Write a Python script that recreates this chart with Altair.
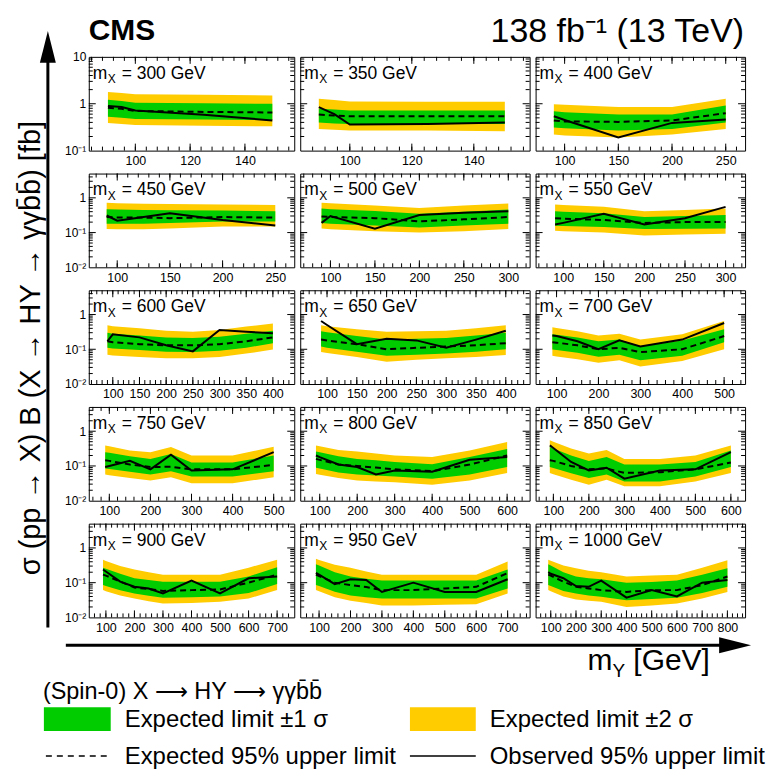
import altair as alt
import pandas as pd
import numpy as np

FONT = "Liberation Sans"
GREEN = "#00cc00"
YELLOW = "#ffcc00"

MX = [300, 350, 400, 450, 500, 550, 600, 650, 700, 750, 800, 850, 900, 950, 1000]

P300 = dict(my=[90, 95, 100, 125, 150],
            obs=[0.90, 0.85, 0.72, 0.58, 0.44],
            exp=[0.82, 0.78, 0.70, 0.67, 0.65],
            lo1=[0.53, 0.50, 0.47, 0.46, 0.45],
            hi1=[1.22, 1.15, 1.05, 1.02, 1.00],
            lo2=[0.39, 0.37, 0.35, 0.34, 0.33],
            hi2=[1.78, 1.70, 1.60, 1.55, 1.50])
P350 = dict(my=[90, 95, 100, 125, 150],
            obs=[0.85, 0.60, 0.36, 0.37, 0.40],
            exp=[0.59, 0.56, 0.54, 0.54, 0.54],
            lo1=[0.40, 0.38, 0.37, 0.37, 0.37],
            hi1=[0.78, 0.75, 0.72, 0.72, 0.72],
            lo2=[0.29, 0.28, 0.27, 0.27, 0.26],
            hi2=[1.28, 1.20, 1.12, 1.10, 1.10])
P400 = dict(my=[90, 100, 150, 200, 250],
            obs=[0.54, 0.45, 0.19, 0.39, 0.46],
            exp=[0.44, 0.42, 0.41, 0.44, 0.63],
            lo1=[0.31, 0.30, 0.27, 0.29, 0.40],
            hi1=[0.69, 0.66, 0.59, 0.59, 0.92],
            lo2=[0.22, 0.21, 0.19, 0.22, 0.29],
            hi2=[0.98, 0.95, 0.85, 0.85, 1.28])
P450 = dict(my=[90, 100, 125, 150, 200, 250],
            obs=[0.31, 0.22, 0.28, 0.36, 0.23, 0.16],
            exp=[0.28, 0.27, 0.27, 0.26, 0.28, 0.27],
            lo1=[0.18, 0.18, 0.18, 0.19, 0.21, 0.21],
            hi1=[0.47, 0.46, 0.45, 0.44, 0.43, 0.41],
            lo2=[0.126, 0.125, 0.125, 0.13, 0.15, 0.15],
            hi2=[0.72, 0.70, 0.68, 0.66, 0.64, 0.62])
P500 = dict(my=[90, 100, 150, 200, 250, 300],
            obs=[0.19, 0.30, 0.13, 0.32, 0.37, 0.41],
            exp=[0.29, 0.28, 0.26, 0.21, 0.24, 0.28],
            lo1=[0.19, 0.18, 0.16, 0.14, 0.16, 0.18],
            hi1=[0.49, 0.47, 0.42, 0.35, 0.40, 0.46],
            lo2=[0.13, 0.125, 0.11, 0.10, 0.11, 0.126],
            hi2=[0.72, 0.70, 0.60, 0.51, 0.60, 0.69])
P550 = dict(my=[90, 100, 150, 200, 250, 300],
            obs=[0.17, 0.19, 0.35, 0.17, 0.26, 0.55],
            exp=[0.26, 0.25, 0.23, 0.19, 0.20, 0.20],
            lo1=[0.157, 0.155, 0.145, 0.126, 0.128, 0.13],
            hi1=[0.41, 0.40, 0.36, 0.28, 0.30, 0.32],
            lo2=[0.112, 0.11, 0.10, 0.083, 0.088, 0.093],
            hi2=[0.64, 0.62, 0.55, 0.41, 0.45, 0.49])
P600 = dict(my=[90, 100, 150, 200, 250, 300, 350, 400],
            obs=[0.17, 0.27, 0.22, 0.13, 0.087, 0.36, 0.32, 0.29],
            exp=[0.17, 0.16, 0.14, 0.13, 0.13, 0.14, 0.17, 0.22],
            lo1=[0.11, 0.105, 0.095, 0.085, 0.083, 0.09, 0.11, 0.15],
            hi1=[0.30, 0.28, 0.25, 0.22, 0.21, 0.23, 0.28, 0.34],
            lo2=[0.07, 0.066, 0.06, 0.055, 0.055, 0.06, 0.075, 0.098],
            hi2=[0.49, 0.46, 0.40, 0.34, 0.32, 0.36, 0.45, 0.55])
P650 = dict(my=[90, 100, 150, 200, 250, 300, 350, 400],
            obs=[0.65, 0.50, 0.14, 0.20, 0.18, 0.11, 0.19, 0.34],
            exp=[0.19, 0.18, 0.14, 0.10, 0.11, 0.12, 0.13, 0.15],
            lo1=[0.12, 0.11, 0.085, 0.065, 0.07, 0.075, 0.085, 0.10],
            hi1=[0.33, 0.31, 0.24, 0.19, 0.20, 0.21, 0.25, 0.30],
            lo2=[0.083, 0.078, 0.06, 0.044, 0.05, 0.055, 0.06, 0.068],
            hi2=[0.49, 0.46, 0.38, 0.32, 0.33, 0.34, 0.40, 0.49])
P700 = dict(my=[90, 100, 150, 200, 250, 300, 400, 500],
            obs=[0.25, 0.24, 0.17, 0.10, 0.18, 0.12, 0.19, 0.57],
            exp=[0.16, 0.155, 0.13, 0.10, 0.11, 0.083, 0.10, 0.24],
            lo1=[0.098, 0.095, 0.08, 0.061, 0.07, 0.048, 0.065, 0.16],
            hi1=[0.27, 0.26, 0.22, 0.17, 0.19, 0.12, 0.18, 0.38],
            lo2=[0.065, 0.062, 0.052, 0.041, 0.048, 0.032, 0.046, 0.10],
            hi2=[0.43, 0.41, 0.33, 0.25, 0.28, 0.19, 0.27, 0.65])
P750 = dict(my=[90, 100, 150, 200, 250, 300, 400, 500],
            obs=[0.093, 0.10, 0.14, 0.08, 0.21, 0.074, 0.08, 0.25],
            exp=[0.147, 0.14, 0.11, 0.093, 0.095, 0.08, 0.08, 0.107],
            lo1=[0.085, 0.082, 0.068, 0.057, 0.071, 0.05, 0.05, 0.071],
            hi1=[0.25, 0.24, 0.19, 0.16, 0.22, 0.125, 0.125, 0.20],
            lo2=[0.057, 0.054, 0.045, 0.038, 0.047, 0.032, 0.032, 0.047],
            hi2=[0.39, 0.37, 0.28, 0.25, 0.35, 0.20, 0.20, 0.36])
P800 = dict(my=[90, 100, 150, 200, 250, 300, 400, 500, 600],
            obs=[0.20, 0.18, 0.11, 0.093, 0.057, 0.074, 0.068, 0.15, 0.18],
            exp=[0.16, 0.15, 0.11, 0.10, 0.09, 0.08, 0.071, 0.11, 0.20],
            lo1=[0.089, 0.085, 0.065, 0.057, 0.053, 0.05, 0.043, 0.057, 0.093],
            hi1=[0.26, 0.25, 0.19, 0.16, 0.145, 0.13, 0.112, 0.18, 0.31],
            lo2=[0.059, 0.056, 0.045, 0.038, 0.036, 0.034, 0.029, 0.038, 0.063],
            hi2=[0.39, 0.37, 0.29, 0.26, 0.23, 0.20, 0.18, 0.28, 0.49])
P850 = dict(my=[90, 100, 150, 200, 250, 300, 400, 500, 600],
            obs=[0.39, 0.33, 0.13, 0.074, 0.089, 0.043, 0.074, 0.08, 0.25],
            exp=[0.147, 0.14, 0.10, 0.08, 0.085, 0.063, 0.066, 0.08, 0.125],
            lo1=[0.093, 0.088, 0.062, 0.045, 0.057, 0.036, 0.036, 0.05, 0.093],
            hi1=[0.35, 0.32, 0.20, 0.14, 0.18, 0.11, 0.11, 0.13, 0.28],
            lo2=[0.063, 0.058, 0.04, 0.029, 0.04, 0.026, 0.026, 0.036, 0.063],
            hi2=[0.55, 0.50, 0.32, 0.23, 0.29, 0.16, 0.16, 0.20, 0.39])
P900 = dict(my=[90, 100, 150, 200, 250, 300, 400, 500, 600, 700],
            obs=[0.24, 0.21, 0.107, 0.076, 0.068, 0.049, 0.114, 0.049, 0.134, 0.15],
            exp=[0.17, 0.16, 0.107, 0.073, 0.065, 0.058, 0.061, 0.064, 0.10, 0.17],
            lo1=[0.085, 0.08, 0.06, 0.049, 0.042, 0.037, 0.038, 0.04, 0.05, 0.091],
            hi1=[0.27, 0.25, 0.18, 0.134, 0.12, 0.107, 0.107, 0.107, 0.15, 0.28],
            lo2=[0.061, 0.057, 0.043, 0.035, 0.029, 0.025, 0.026, 0.028, 0.035, 0.061],
            hi2=[0.46, 0.42, 0.30, 0.24, 0.20, 0.17, 0.17, 0.17, 0.27, 0.46])
P950 = dict(my=[90, 100, 150, 200, 250, 300, 400, 500, 600, 700],
            obs=[0.19, 0.17, 0.091, 0.125, 0.12, 0.054, 0.10, 0.054, 0.054, 0.125],
            exp=[0.17, 0.155, 0.10, 0.085, 0.075, 0.061, 0.061, 0.068, 0.076, 0.19],
            lo1=[0.085, 0.08, 0.055, 0.043, 0.038, 0.035, 0.035, 0.035, 0.035, 0.068],
            hi1=[0.34, 0.31, 0.20, 0.15, 0.13, 0.115, 0.115, 0.115, 0.115, 0.24],
            lo2=[0.061, 0.057, 0.038, 0.03, 0.026, 0.022, 0.022, 0.023, 0.024, 0.049],
            hi2=[0.49, 0.45, 0.33, 0.27, 0.21, 0.17, 0.17, 0.17, 0.17, 0.41])
P1000 = dict(my=[90, 100, 150, 200, 250, 300, 400, 500, 600, 700, 800],
             obs=[0.20, 0.18, 0.134, 0.08, 0.076, 0.114, 0.037, 0.061, 0.04, 0.10, 0.12],
             exp=[0.17, 0.16, 0.107, 0.076, 0.068, 0.061, 0.054, 0.061, 0.061, 0.085, 0.15],
             lo1=[0.085, 0.08, 0.058, 0.049, 0.043, 0.039, 0.031, 0.034, 0.037, 0.05, 0.076],
             hi1=[0.34, 0.31, 0.20, 0.15, 0.135, 0.125, 0.10, 0.105, 0.115, 0.17, 0.26],
             lo2=[0.061, 0.057, 0.04, 0.033, 0.03, 0.028, 0.02, 0.022, 0.025, 0.035, 0.054],
             hi2=[0.46, 0.43, 0.31, 0.26, 0.22, 0.20, 0.15, 0.16, 0.17, 0.27, 0.44])

PANELS = [P300, P350, P400, P450, P500, P550, P600, P650, P700,
          P750, P800, P850, P900, P950, P1000]

# axis ranges and tick labels of each panel
X_DOM = [[83, 158], [84, 158], [73, 268], [73, 268], [66, 324], [66, 324],
         [55, 440], [55, 440], [50, 550], [50, 550], [48, 660], [50, 640],
         [40, 760], [40, 770], [40, 870]]
X_LABELS = [[100, 120, 140], [100, 120, 140], [100, 150, 200, 250],
            [100, 150, 200, 250], [100, 150, 200, 250, 300], [100, 150, 200, 250, 300],
            [100, 150, 200, 250, 300, 350, 400], [100, 150, 200, 250, 300, 350, 400],
            [100, 200, 300, 400, 500], [100, 200, 300, 400, 500],
            [100, 200, 300, 400, 500, 600], [100, 200, 300, 400, 500, 600],
            [100, 200, 300, 400, 500, 600, 700], [100, 200, 300, 400, 500, 600, 700],
            [100, 200, 300, 400, 500, 600, 700, 800]]
Y_DOM_TOP = [0.1, 10]
Y_DOM = [0.01, 5]

COL_W = [206, 230, 210]
PANEL_H = 94
MAJ, MIN = 7, 4

Y_LABEL_EXPR = ("datum.value > 5 ? '10' : datum.value > 0.5 ? '1' : "
                "datum.value > 0.05 ? '10\u207b\u00b9' : '10\u207b\u00b2'")


def one(**kw):
    return pd.DataFrame({k: [v] for k, v in kw.items()})


def txt(s, x, y, size, **kw):
    params = dict(font=FONT, fontSize=size, align="left", baseline="alphabetic", color="black")
    params.update(kw)
    return alt.Chart(one(t=s)).mark_text(**params).encode(
        text="t:N", x=alt.value(x), y=alt.value(y))


def make_panel(idx):
    row, col = divmod(idx, 3)
    W, H = COL_W[col], PANEL_H
    df = pd.DataFrame(PANELS[idx])
    ydom = Y_DOM_TOP if row == 0 else Y_DOM
    xdom = X_DOM[idx]
    xsc = alt.Scale(domain=xdom, nice=False, zero=False)
    ysc = alt.Scale(type="log", domain=ydom, nice=False)
    xax = alt.Axis(values=X_LABELS[idx], format="d", ticks=False, domain=False,
                   grid=False, title=None, labelFont=FONT, labelFontSize=12.5,
                   labelColor="black", labelPadding=4)
    if col == 0:
        yvals = [v for v in [0.01, 0.1, 1, 10] if ydom[0] <= v <= ydom[1]]
        yax = alt.Axis(values=yvals, labelExpr=Y_LABEL_EXPR, ticks=False,
                       domain=False, grid=False, title=None, labelFont=FONT,
                       labelFontSize=12, labelColor="black", labelPadding=3)
    else:
        yax = None

    def X(f):
        return alt.X(f, type="quantitative", scale=xsc, axis=xax)

    def Y(f):
        return alt.Y(f, type="quantitative", scale=ysc, axis=yax)

    base = alt.Chart(df)
    layers = [
        base.mark_area(color=YELLOW, opacity=1).encode(x=X("my"), y=Y("lo2"), y2="hi2"),
        base.mark_area(color=GREEN, opacity=1).encode(x=X("my"), y=Y("lo1"), y2="hi1"),
        base.mark_line(color="black", strokeDash=[6, 4], strokeWidth=2).encode(x=X("my"), y=Y("exp")),
        base.mark_line(color="black", strokeWidth=2).encode(x=X("my"), y=Y("obs")),
    ]

    # inward ROOT-style ticks
    ymaj = [10.0 ** k for k in range(-2, 2) if ydom[0] < 10.0 ** k < ydom[1]]
    ymin = [m * 10.0 ** k for k in range(-2, 1) for m in range(2, 10)
            if ydom[0] < m * 10.0 ** k < ydom[1]]
    step = X_LABELS[idx][1] - X_LABELS[idx][0]
    xmaj = [v for v in np.arange(0, 1000, step) if xdom[0] < v < xdom[1]]
    xmin = [v for v in np.arange(0, 1000, step / 5.0) if xdom[0] < v < xdom[1]]
    for vals, ln in ((ymaj, MAJ), (ymin, MIN)):
        tdf = pd.DataFrame({"v": vals})
        layers.append(alt.Chart(tdf).mark_rule(color="black", strokeWidth=1).encode(
            y=Y("v"), x=alt.value(0), x2=alt.value(ln)))
        layers.append(alt.Chart(tdf).mark_rule(color="black", strokeWidth=1).encode(
            y=Y("v"), x=alt.value(W - ln), x2=alt.value(W)))
    for vals, ln in ((xmaj, MAJ), (xmin, MIN)):
        tdf = pd.DataFrame({"v": vals})
        layers.append(alt.Chart(tdf).mark_rule(color="black", strokeWidth=1).encode(
            x=X("v"), y=alt.value(H - ln), y2=alt.value(H)))
        layers.append(alt.Chart(tdf).mark_rule(color="black", strokeWidth=1).encode(
            x=X("v"), y=alt.value(0), y2=alt.value(ln)))

    # m_X label
    layers.append(txt("m", 4, 22, 17.5))
    layers.append(txt("X", 19, 26.5, 12))
    layers.append(txt(f"= {MX[idx]} GeV", 33, 22, 17.5))

    if idx == 0:
        layers = annotations() + layers
    return alt.layer(*layers).properties(width=W, height=H)


def annotations():
    # positions relative to the top-left panel's plot origin
    a = []
    a.append(alt.Chart(one(t=0)).mark_rect(opacity=0).encode(
        x=alt.value(-88), x2=alt.value(683), y=alt.value(-55), y2=alt.value(718)))
    a.append(txt("CMS", 0, -17, 30, fontWeight="bold"))
    a.append(txt("138 fb\u207b\u00b9 (13 TeV)", 657, -15, 34, align="right"))
    a.append(txt("\u03c3 (pp \u2192 X) B (X \u2192 HY \u2192 \u03b3\u03b3b\u0304b\u0304) [fb]",
                 -58, 292, 29, align="center", baseline="middle", angle=270))
    # arrows
    a.append(alt.Chart(one(t=0)).mark_rule(color="black", strokeWidth=3).encode(
        x=alt.value(-41), y=alt.value(0), y2=alt.value(572)))
    a.append(alt.Chart(one(t=0)).mark_point(shape="M -0.5 1 L 0 -1 L 0.5 1 Z", filled=True,
                                            size=1024, color="black", opacity=1).encode(
        x=alt.value(-41), y=alt.value(-10)))
    a.append(alt.Chart(one(t=0)).mark_rule(color="black", strokeWidth=3).encode(
        y=alt.value(590), x=alt.value(-23), x2=alt.value(640)))
    a.append(alt.Chart(one(t=0)).mark_point(shape="M -1 -0.5 L 1 0 L -1 0.5 Z", filled=True,
                                            size=1024, color="black", opacity=1).encode(
        x=alt.value(648), y=alt.value(590)))
    # x title
    a.append(txt("m", 500, 615, 30))
    a.append(txt("Y", 525, 622, 19))
    a.append(txt("[GeV]", 546, 615, 30))
    # legend
    a.append(txt("(Spin-0) X \u27f6 HY \u27f6 \u03b3\u03b3b\u0304b\u0304", -46, 644, 23.5))
    a.append(alt.Chart(one(t=0)).mark_rect(color=GREEN).encode(
        x=alt.value(-45), x2=alt.value(22), y=alt.value(652), y2=alt.value(676)))
    a.append(alt.Chart(one(t=0)).mark_rect(color=YELLOW).encode(
        x=alt.value(322), x2=alt.value(388), y=alt.value(652), y2=alt.value(676)))
    a.append(txt("Expected limit \u00b11 \u03c3", 36, 672, 24))
    a.append(txt("Expected limit \u00b12 \u03c3", 402, 672, 24))
    a.append(alt.Chart(one(t=0)).mark_rule(color="black", strokeWidth=1.5, strokeDash=[6, 5]).encode(
        y=alt.value(701), x=alt.value(-43), x2=alt.value(22)))
    a.append(alt.Chart(one(t=0)).mark_rule(color="black", strokeWidth=1.5).encode(
        y=alt.value(701), x=alt.value(322), x2=alt.value(388)))
    a.append(txt("Expected 95% upper limit", 36, 709, 24))
    a.append(txt("Observed 95% upper limit", 402, 709, 24))
    return a


panels = [make_panel(i) for i in range(15)]

chart = alt.concat(*panels, columns=3, spacing={"row": 23, "column": 6},
                   bounds="flush", align="each").properties(
    padding=0, background="white").configure_view(stroke="black", strokeWidth=1)

chart.save("out.html", embed_options={"renderer": "svg", "actions": False})
